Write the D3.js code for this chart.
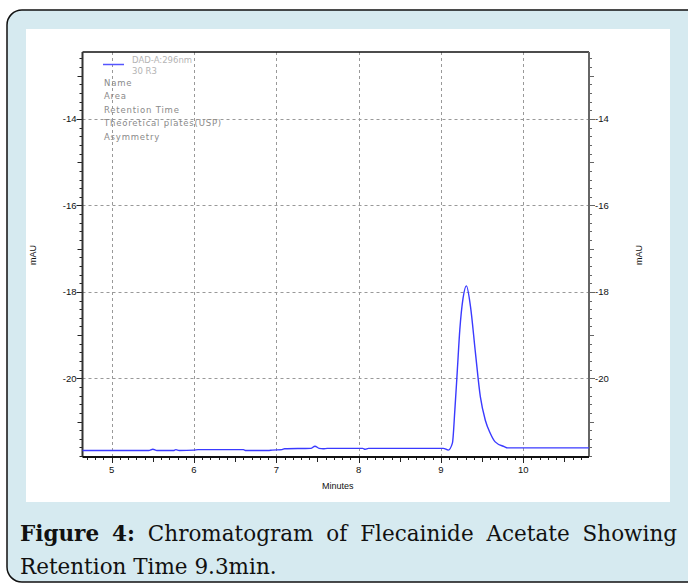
<!DOCTYPE html>
<html>
<head>
<meta charset="utf-8">
<script src="https://cdn.jsdelivr.net/npm/d3@7"></script>
<style>
  body { margin: 0; background: #fff; }
  svg { display: block; }
</style>
</head>
<body>
<div id="chart"></div>
<script>
// retention time (min) and detector signal (mAU)
var times = [4.645, 5.0, 5.45, 5.5, 5.55, 5.75, 5.78, 5.82, 6.0, 6.05, 6.6, 6.63, 6.9, 6.95,
             7.07, 7.1, 7.42, 7.47, 7.52, 7.57, 7.62, 8.05, 8.08, 8.12, 8.5, 9.03, 9.09,
             9.14, 9.17, 9.2, 9.23, 9.27, 9.31, 9.36, 9.42, 9.48, 9.54, 9.60, 9.66, 9.77,
             9.81, 10.2, 10.8];
var signal = [-21.67, -21.67, -21.67, -21.64, -21.67, -21.67, -21.65, -21.67, -21.66, -21.65,
              -21.65, -21.67, -21.67, -21.66, -21.65, -21.63, -21.62, -21.57, -21.62, -21.63,
              -21.62, -21.62, -21.64, -21.62, -21.62, -21.62, -21.66, -21.50, -20.73, -19.81,
              -18.88, -18.14, -17.86, -18.34, -19.41, -20.43, -20.97, -21.27, -21.47, -21.58,
              -21.61, -21.61, -21.61];

var xMajor = [5, 6, 7, 8, 9, 10];
var yMajor = [-20, -18, -16, -14];
var yMedium = [-21, -19, -17, -15, -13];

var legendTitle = ["DAD-A:296nm", "30 R3"];
var legendRows = ["Name", "Area", "Retention Time", "Theoretical plates(USP)", "Asymmetry"];

var captionBold = "Figure 4:";
var captionLine1 = "Chromatogram of Flecainide Acetate Showing";
var captionLine2 = "Retention Time 9.3min.";

var W = 688, H = 584;
var plot = { left: 82.5, right: 589, top: 52, bottom: 457 };

var svg = d3.select("#chart").append("svg")
  .attr("width", W)
  .attr("height", H);

// outer light blue frame and white panel
svg.append("rect")
  .attr("x", 7).attr("y", 10)
  .attr("width", 700).attr("height", 572)
  .attr("rx", 15).attr("ry", 15)
  .attr("fill", "#d6eaf0")
  .attr("stroke", "#111")
  .attr("stroke-width", 1.5);

svg.append("rect")
  .attr("x", 26).attr("y", 29)
  .attr("width", 644).attr("height", 473)
  .attr("fill", "#fff");

var x = d3.scaleLinear()
  .domain([4.645, 10.80])
  .range([plot.left, plot.right]);

var y = d3.scaleLinear()
  .domain([-21.82, -12.45])
  .range([plot.bottom, plot.top]);

// grid
var grid = svg.append("g")
  .attr("stroke", "#999")
  .attr("stroke-width", 1)
  .attr("stroke-dasharray", "3,3");

grid.selectAll(".vg")
  .data(xMajor)
  .enter()
  .append("line")
  .attr("x1", function(d) { return Math.round(x(d)) + 0.5; })
  .attr("x2", function(d) { return Math.round(x(d)) + 0.5; })
  .attr("y1", plot.top)
  .attr("y2", plot.bottom);

grid.selectAll(".hg")
  .data(yMajor)
  .enter()
  .append("line")
  .attr("x1", plot.left)
  .attr("x2", plot.right)
  .attr("y1", function(d) { return Math.round(y(d)) + 0.5; })
  .attr("y2", function(d) { return Math.round(y(d)) + 0.5; });

// tick helpers
var yMinor = d3.range(-21.8, -12.5, 0.2).map(function(v) { return Math.round(v * 10) / 10; });
var xMinor = d3.range(4.7, 10.8, 0.1).map(function(v) { return Math.round(v * 10) / 10; });
var xMedium = [5.5, 6.5, 7.5, 8.5, 9.5, 10.5];

function yTickLen(d) {
  if (yMajor.indexOf(d) >= 0) return 6;
  if (yMedium.indexOf(d) >= 0) return 5;
  return 3;
}
function xTickLen(d) {
  if (xMajor.indexOf(d) >= 0) return 6;
  if (xMedium.indexOf(d) >= 0) return 5;
  return 3;
}

var ticks = svg.append("g").attr("stroke", "#222").attr("stroke-width", 1);

ticks.selectAll(".lt")
  .data(yMinor)
  .enter()
  .append("line")
  .attr("x1", function(d) { return plot.left - yTickLen(d); })
  .attr("x2", plot.left)
  .attr("y1", function(d) { return Math.round(y(d)) + 0.5; })
  .attr("y2", function(d) { return Math.round(y(d)) + 0.5; });

ticks.selectAll(".rt")
  .data(yMinor)
  .enter()
  .append("line")
  .attr("x1", plot.right)
  .attr("x2", function(d) { return plot.right + yTickLen(d); })
  .attr("y1", function(d) { return Math.round(y(d)) + 0.5; })
  .attr("y2", function(d) { return Math.round(y(d)) + 0.5; })
  .attr("stroke", "#666");

ticks.selectAll(".bt")
  .data(xMinor)
  .enter()
  .append("line")
  .attr("x1", function(d) { return Math.round(x(d)) + 0.5; })
  .attr("x2", function(d) { return Math.round(x(d)) + 0.5; })
  .attr("y1", plot.bottom)
  .attr("y2", function(d) { return plot.bottom + xTickLen(d); });

// plot frame
svg.append("line")
  .attr("x1", plot.left).attr("x2", plot.right)
  .attr("y1", plot.top).attr("y2", plot.top)
  .attr("stroke", "#111").attr("stroke-width", 1.5);
svg.append("line")
  .attr("x1", plot.left).attr("x2", plot.left)
  .attr("y1", plot.top).attr("y2", plot.bottom)
  .attr("stroke", "#333").attr("stroke-width", 2);
svg.append("line")
  .attr("x1", plot.right).attr("x2", plot.right)
  .attr("y1", plot.top).attr("y2", plot.bottom)
  .attr("stroke", "#666").attr("stroke-width", 2);
svg.append("line")
  .attr("x1", plot.left).attr("x2", plot.right)
  .attr("y1", plot.bottom).attr("y2", plot.bottom)
  .attr("stroke", "#111").attr("stroke-width", 2);

// tick labels
var lab = svg.append("g")
  .attr("font-family", "Liberation Sans, Arial, sans-serif")
  .attr("font-size", "9.5px")
  .attr("fill", "#111");

lab.selectAll(".yl")
  .data(yMajor)
  .enter()
  .append("text")
  .attr("x", plot.left - 6)
  .attr("y", function(d) { return y(d); })
  .attr("dy", "0.35em")
  .attr("text-anchor", "end")
  .text(function(d) { return d; });

lab.selectAll(".yr")
  .data(yMajor)
  .enter()
  .append("text")
  .attr("x", plot.right + 6)
  .attr("y", function(d) { return y(d); })
  .attr("dy", "0.35em")
  .attr("text-anchor", "start")
  .text(function(d) { return d; });

lab.selectAll(".xl")
  .data(xMajor)
  .enter()
  .append("text")
  .attr("x", function(d) { return x(d); })
  .attr("y", 473)
  .attr("text-anchor", "middle")
  .text(function(d) { return d; });

lab.append("text")
  .attr("x", (plot.left + plot.right) / 2 + 2)
  .attr("y", 489)
  .attr("text-anchor", "middle")
  .attr("font-size", "9px")
  .text("Minutes");

lab.append("text")
  .attr("transform", "translate(36,255) rotate(-90)")
  .attr("text-anchor", "middle")
  .attr("font-size", "9px")
  .text("mAU");

lab.append("text")
  .attr("transform", "translate(642,255) rotate(-90)")
  .attr("text-anchor", "middle")
  .attr("font-size", "9px")
  .text("mAU");

// trace
var line = d3.line()
  .x(function(d, i) { return x(times[i]); })
  .y(function(d) { return y(d); })
  .curve(d3.curveMonotoneX);

svg.append("path")
  .datum(signal)
  .attr("d", line)
  .attr("fill", "none")
  .attr("stroke", "#3a3aff")
  .attr("stroke-width", 1.4);

// legend
svg.append("line")
  .attr("x1", 103).attr("x2", 124)
  .attr("y1", 64.5).attr("y2", 64.5)
  .attr("stroke", "#5555ff")
  .attr("stroke-width", 1.5);

var leg = svg.append("g")
  .attr("font-family", "DejaVu Sans, Verdana, sans-serif")
  .attr("font-size", "8.5px");

leg.selectAll(".lt")
  .data(legendTitle)
  .enter()
  .append("text")
  .attr("x", 132)
  .attr("y", function(d, i) { return 63 + i * 10.5; })
  .attr("fill", "#b4b4b4")
  .text(function(d) { return d; });

leg.selectAll(".lr")
  .data(legendRows)
  .enter()
  .append("text")
  .attr("x", 104)
  .attr("y", function(d, i) { return 86 + i * 13.4; })
  .attr("fill", "#8a8a8a")
  .attr("letter-spacing", "0.8px")
  .text(function(d) { return d; });

// caption, first line justified between the frame margins
var cap = svg.append("g")
  .attr("font-family", "DejaVu Serif, Georgia, serif")
  .attr("font-size", "21.5px")
  .attr("fill", "#111");

var words = captionBold.split(" ").concat(captionLine1.split(" "));
var capLeft = 20, capRight = 677;
var nodes = words.map(function(w, i) {
  return cap.append("text")
    .attr("y", 541)
    .attr("font-weight", i < 2 ? "bold" : "normal")
    .text(w);
});
var widths = nodes.map(function(n) { return n.node().getComputedTextLength(); });
var gap = (capRight - capLeft - d3.sum(widths)) / (words.length - 1);
var cx = capLeft;
nodes.forEach(function(n, i) {
  n.attr("x", cx);
  cx += widths[i] + gap;
});

cap.append("text")
  .attr("x", capLeft)
  .attr("y", 574)
  .text(captionLine2);
</script>
</body>
</html>
